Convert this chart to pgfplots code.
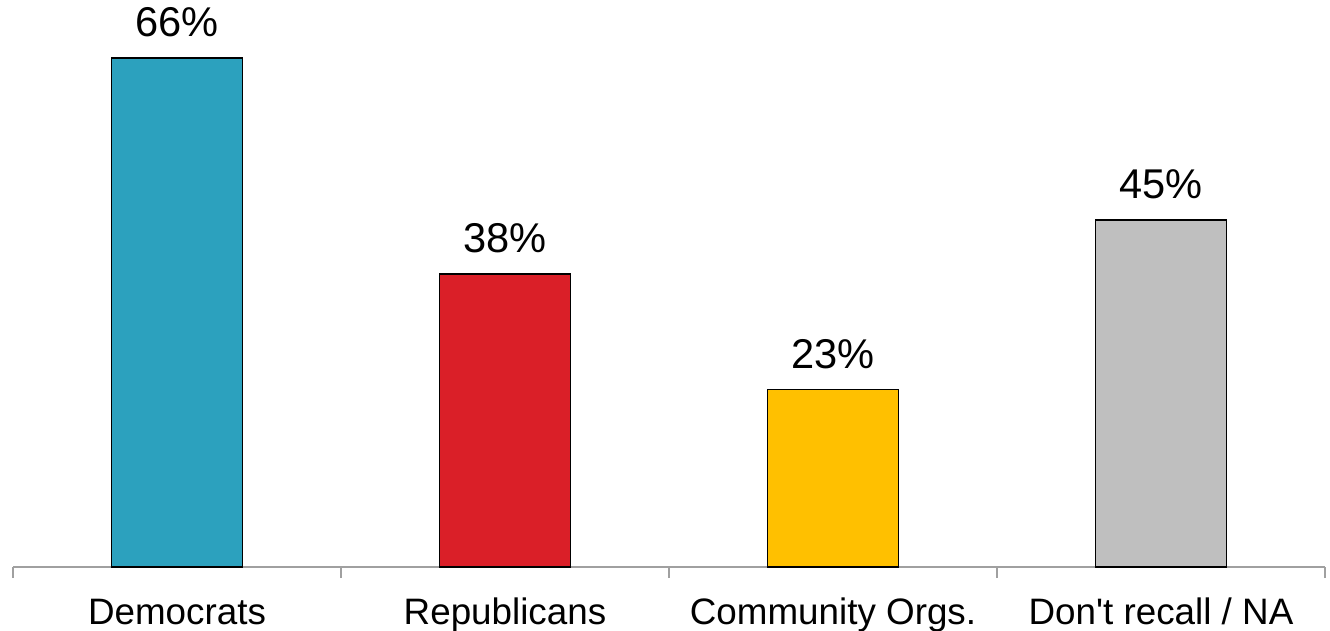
\documentclass[border=0pt]{standalone}
\usepackage{pgfplots}
\pgfplotsset{compat=1.18}
\usepackage{fontspec}
\setmainfont{Liberation Sans}
\definecolor{cblue}{HTML}{2CA1BE}
\definecolor{cred}{HTML}{DA1F28}
\definecolor{cyellow}{HTML}{FFC000}
\definecolor{cgray}{HTML}{BFBFBF}
\definecolor{axisgray}{HTML}{A0A0A0}
\begin{document}
\begin{tikzpicture}
\begin{axis}[
  scale only axis, width=656bp, height=283.5bp,
  xmin=-0.5, xmax=3.5, ymin=0, ymax=73.5,
  axis x line*=bottom, axis y line=none,
  x axis line style={draw=axisgray, line width=1bp},
  xtick={0,1,2,3},
  xticklabels={Democrats,Republicans,Community Orgs.,Don\textquotesingle t recall / NA},
  major tick length=0pt,
  extra x ticks={-0.5,0.5,1.5,2.5,3.5},
  extra x tick labels={},
  extra x tick style={major tick length=5.5bp, tick align=outside, tick style={draw=axisgray, line width=1bp}},
  xticklabel style={font=\fontsize{18.4bp}{21bp}\selectfont, anchor=base, inner sep=0pt, yshift=-28.5bp},
  ytick=\empty,
  clip=false,
  ybar, bar width=65.5bp, bar shift=0pt,
  point meta=y,
  /pgf/number format/assume math mode=true,
  nodes near coords={\pgfmathprintnumber{\pgfplotspointmeta}\%},
  every node near coord/.append style={font=\fontsize{20.8bp}{24bp}\selectfont, anchor=base, inner sep=0pt, yshift=10.5bp, color=black},
]
\addplot[fill=cblue, draw=black, line width=0.9bp] coordinates {(0,66)};
\addplot[fill=cred, draw=black, line width=0.9bp] coordinates {(1,38)};
\addplot[fill=cyellow, draw=black, line width=0.9bp] coordinates {(2,23)};
\addplot[fill=cgray, draw=black, line width=0.9bp] coordinates {(3,45)};
\end{axis}
\pgfresetboundingbox
\path[use as bounding box] ([xshift=-6.5bp,yshift=-31.75bp]current axis.south west) rectangle ([xshift=2.5bp]current axis.north east);
\end{tikzpicture}
\end{document}
